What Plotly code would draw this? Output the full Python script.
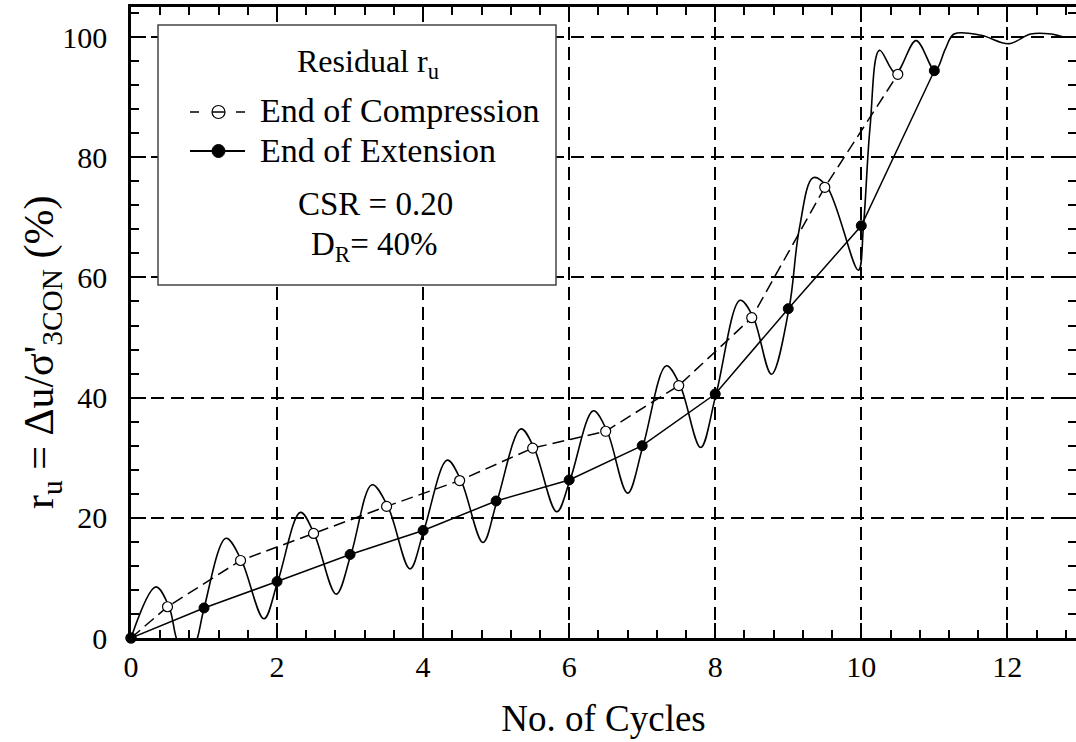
import plotly.graph_objects as go

# ---- data ----
# continuous measured pore-pressure record (key points)
cycles_curve = [0, 0.34, 0.52, 0.62, 0.77, 0.91, 1.00, 1.30, 1.51, 1.82, 2.01, 2.32, 2.51, 2.81,
                3.01, 3.30, 3.52, 3.82, 4.01, 4.33, 4.52, 4.82, 5.01, 5.34, 5.52, 5.83, 6.01, 6.33,
                6.52, 6.80, 7.01, 7.33, 7.52, 7.80, 8.01, 8.34, 8.52, 8.77, 9.01, 9.15, 9.34, 9.53,
                9.96, 10.03, 10.12, 10.25, 10.47, 10.75, 11.01, 11.15, 11.27, 11.64, 12.02, 12.32,
                12.60, 12.78, 12.95]
ru_curve = [0, 8.5, 5.2, 0, -5, 0, 4.9, 16.6, 13.0, 3.2, 9.4, 20.9, 17.3, 7.3,
            13.8, 25.5, 21.8, 11.5, 17.9, 29.6, 26.2, 15.9, 22.7, 34.8, 31.6, 21.0, 26.2, 37.8,
            34.4, 24.1, 31.9, 45.3, 42.0, 31.7, 40.5, 56.2, 53.4, 43.9, 54.8, 68.0, 76.6, 75.1,
            61.2, 68.6, 85.0, 97.8, 94.0, 99.4, 94.4, 98.0, 100.5, 100.3, 98.9, 100.5,
            100.5, 100.0, 100.0]

# End of Compression (open circles)
cycles_comp = [0, 0.5, 1.5, 2.5, 3.5, 4.5, 5.5, 6.5, 7.5, 8.5, 9.5, 10.5]
ru_comp = [0, 5.2, 12.9, 17.4, 21.9, 26.2, 31.6, 34.4, 42.0, 53.3, 75.0, 93.8]

# End of Extension (filled circles)
cycles_ext = [0, 1, 2, 3, 4, 5, 6, 7, 8, 9, 10, 11]
ru_ext = [0, 5.0, 9.4, 13.9, 17.9, 22.8, 26.3, 32.0, 40.6, 54.8, 68.6, 94.4]

x_ticks = [0, 2, 4, 6, 8, 10, 12]
y_ticks = [0, 20, 40, 60, 80, 100]
X_RANGE = [0, 12.94]
Y_RANGE = [0, 105]

FONT = "Liberation Serif"
W, H = 1076, 742
ML, MR, MT, MB = 131, 0, 7, 104
PW, PH = W - ML - MR, H - MT - MB


def px(xp):
    return (xp - ML) / PW


def py(yp):
    return (H - MB - yp) / PH


fig = go.Figure()

fig.add_trace(go.Scatter(x=cycles_curve, y=ru_curve, mode="lines",
                         line=dict(color="black", width=1.6, shape="spline", smoothing=1.0),
                         showlegend=False, hoverinfo="skip"))

fig.add_trace(go.Scatter(x=cycles_comp, y=ru_comp, mode="lines+markers", name="End of Compression",
                         line=dict(color="black", width=1.5, dash="12px,6px"),
                         marker=dict(symbol="circle", size=10, color="white",
                                     line=dict(color="black", width=1.2)),
                         cliponaxis=False, showlegend=False))

fig.add_trace(go.Scatter(x=cycles_ext, y=ru_ext, mode="lines+markers", name="End of Extension",
                         line=dict(color="black", width=1.5),
                         marker=dict(symbol="circle", size=10, color="black",
                                     line=dict(color="black", width=1)),
                         cliponaxis=False, showlegend=False))

TICKC = "black"
tick_style = dict(ticks="inside", ticklen=15, tickwidth=2.2, tickcolor=TICKC, mirror="ticks")
x_minor = dict(dtick=0.4, tick0=0, ticks="inside", ticklen=8, tickwidth=2.2, tickcolor=TICKC, showgrid=False)
y_minor = dict(dtick=4, tick0=0, ticks="inside", ticklen=8, tickwidth=2.2, tickcolor=TICKC, showgrid=False)
# for the companion axes sitting on the bottom / left edge and facing into the plot
x_minor_out = dict(x_minor, ticks="outside")
y_minor_out = dict(y_minor, ticks="outside")
out_style = dict(ticks="outside", ticklen=15, tickwidth=2.2, tickcolor=TICKC)

fig.update_layout(
    xaxis=dict(range=X_RANGE, tickmode="array", tickvals=x_ticks, side="bottom",
               showline=True, linecolor="black", linewidth=2.5,
               showgrid=True, gridcolor="black", gridwidth=1.8, griddash="13px,7px", zeroline=False,
               minor=x_minor, tickfont=dict(family=FONT, size=30, color="black"),
               title=dict(text="No. of Cycles", font=dict(family=FONT, size=37, color="black"), standoff=24),
               **tick_style),
    yaxis=dict(range=Y_RANGE, tickmode="array", tickvals=y_ticks, side="left",
               ticktext=[str(v) + "\u00a0\u00a0" for v in y_ticks],
               showline=True, linecolor="black", linewidth=2.5,
               showgrid=True, gridcolor="black", gridwidth=1.8, griddash="13px,7px", zeroline=False,
               minor=y_minor, tickfont=dict(family=FONT, size=30, color="black"),
               **tick_style),
    # companion axes: placed on the bottom / left edge, facing inwards, to carry the ticks there
    xaxis2=dict(range=X_RANGE, overlaying="x", anchor="free", position=0, side="top",
                tickmode="array", tickvals=x_ticks,
                showticklabels=False, showline=False, showgrid=False, zeroline=False,
                minor=x_minor_out, **out_style),
    yaxis2=dict(range=Y_RANGE, overlaying="y", anchor="free", position=0, side="right",
                tickmode="array", tickvals=y_ticks,
                showticklabels=False, showline=False, showgrid=False, zeroline=False,
                minor=y_minor_out, **out_style),
)

# legend box
shapes = [dict(type="rect", xref="paper", yref="paper", x0=px(158), x1=px(556), y0=py(285), y1=py(25),
               line=dict(color="#444444", width=1.5), fillcolor="white", layer="above")]
# legend samples
shapes += [
    dict(type="line", xref="paper", yref="paper", x0=px(190), x1=px(199), y0=py(112), y1=py(112),
         line=dict(color="black", width=1.5)),
    dict(type="line", xref="paper", yref="paper", x0=px(212), x1=px(225), y0=py(112), y1=py(112),
         line=dict(color="black", width=1.5)),
    dict(type="line", xref="paper", yref="paper", x0=px(236), x1=px(245), y0=py(112), y1=py(112),
         line=dict(color="black", width=1.5)),
    dict(type="circle", xref="paper", yref="paper", x0=px(212), x1=px(225), y0=py(118.5), y1=py(105.5),
         line=dict(color="black", width=1.2)),
    dict(type="line", xref="paper", yref="paper", x0=px(190), x1=px(245), y0=py(151), y1=py(151),
         line=dict(color="black", width=1.8)),
    dict(type="circle", xref="paper", yref="paper", x0=px(212), x1=px(225), y0=py(157.5), y1=py(144.5),
         line=dict(color="black", width=1), fillcolor="black"),
]

ann_font = dict(family=FONT, size=33, color="black")
annotations = [
    dict(text="Residual r<sub>u</sub>", x=px(368), y=py(64), xref="paper", yref="paper",
         xanchor="center", yanchor="middle", showarrow=False, font=dict(family=FONT, size=32, color="black")),
    dict(text="End of Compression", x=px(258), y=py(111), xref="paper", yref="paper",
         xanchor="left", yanchor="middle", showarrow=False, font=dict(family=FONT, size=34, color="black")),
    dict(text="End of Extension", x=px(258), y=py(151), xref="paper", yref="paper",
         xanchor="left", yanchor="middle", showarrow=False, font=dict(family=FONT, size=34, color="black")),
    dict(text="CSR = 0.20", x=px(375), y=py(204), xref="paper", yref="paper",
         xanchor="center", yanchor="middle", showarrow=False, font=ann_font),
    dict(text="D<sub>R</sub>= 40%", x=px(374), y=py(246), xref="paper", yref="paper",
         xanchor="center", yanchor="middle", showarrow=False, font=ann_font),
    # y-axis title
    dict(text="r<sub>u</sub> = Δu/σ'<sub>3CON</sub> (%)", x=px(42), y=py(352), xref="paper", yref="paper",
         xanchor="center", yanchor="middle", textangle=-90, showarrow=False,
         font=dict(family=FONT, size=42, color="black")),
]

fig.update_layout(
    width=W, height=H,
    margin=dict(l=ML, r=MR, t=MT, b=MB, autoexpand=False),
    paper_bgcolor="white", plot_bgcolor="white",
    font=dict(family=FONT, color="black"),
    showlegend=False,
    shapes=shapes, annotations=annotations,
)

fig.write_html("out.html")
